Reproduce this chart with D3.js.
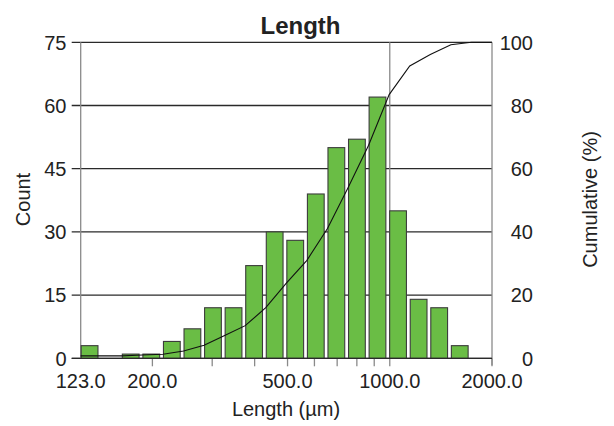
<!DOCTYPE html>
<html>
<head>
<meta charset="utf-8">
<script src="https://cdn.jsdelivr.net/npm/d3@7"></script>
<style>
  html, body { margin: 0; padding: 0; background: #fff; }
  svg { display: block; font-family: "Liberation Sans", Arial, sans-serif; }
</style>
</head>
<body>
<svg id="chart" width="614" height="426"></svg>
<script>
// ---- data ----
const binEdges = [123, 141.4, 162.56, 186.88, 214.84, 246.99, 283.94, 326.43, 375.27, 431.42,
                  495.97, 570.18, 655.49, 753.56, 866.31, 995.93, 1144.95, 1316.25, 1513.19, 1739.59, 2000];
const counts = [3, 0, 1, 1, 4, 7, 12, 12, 22, 30, 28, 39, 50, 52, 62, 35, 14, 12, 3, 0];
const xTickValues = [123, 200, 500, 1000, 2000];
const xMinorTicks = [200, 300, 400, 500, 600, 700, 800, 900, 1000, 2000];
const yTicks = [0, 15, 30, 45, 60, 75];
const y2Ticks = [0, 20, 40, 60, 80, 100];
const titleText = "Length";
const xTitle = "Length (µm)";
const yTitle = "Count";
const y2Title = "Cumulative (%)";

// ---- layout ----
const L = 80.7, R = 492, T = 42.3, B = 358.3;
const svg = d3.select("#chart");
const x = d3.scaleLog().domain([123, 2000]).range([L, R]);
const y = d3.scaleLinear().domain([0, 75]).range([B, T]);
const y2 = d3.scaleLinear().domain([0, 100]).range([B, T]);

const total = d3.sum(counts);
const cum = Array.from(d3.cumsum(counts), v => v / total * 100);

const textCol = "#222";
const gridCol = "#2a2a2a";
const axisCol = "#8a8a8a";

// horizontal gridlines (with left ticks)
svg.append("g").selectAll("line").data(yTicks).join("line")
  .attr("x1", L - 9).attr("x2", R)
  .attr("y1", d => y(d)).attr("y2", d => y(d))
  .attr("stroke", gridCol).attr("stroke-width", 1.3);

// vertical gridline at 1000
svg.append("line")
  .attr("x1", x(1000)).attr("x2", x(1000)).attr("y1", T).attr("y2", B)
  .attr("stroke", axisCol).attr("stroke-width", 1.3);

// left axis line
svg.append("line").attr("x1", L).attr("x2", L).attr("y1", T).attr("y2", B)
  .attr("stroke", axisCol).attr("stroke-width", 1.3);
// right axis line
svg.append("line").attr("x1", R).attr("x2", R).attr("y1", T).attr("y2", B + 7)
  .attr("stroke", axisCol).attr("stroke-width", 1.3);

// x minor ticks
svg.append("g").selectAll("line").data(xMinorTicks).join("line")
  .attr("x1", d => x(d)).attr("x2", d => x(d))
  .attr("y1", B).attr("y2", B + 8)
  .attr("stroke", axisCol).attr("stroke-width", 1.3);

// bars
const bins = counts.map((c, i) => ({ c, x0: binEdges[i], x1: binEdges[i + 1] }));
svg.append("g").selectAll("rect").data(bins.filter(b => b.c > 0)).join("rect")
  .attr("x", b => x(b.x0) + 0.5)
  .attr("width", b => x(b.x1) - x(b.x0) - 3.8)
  .attr("y", b => y(b.c))
  .attr("height", b => y(0) - y(b.c))
  .attr("fill", "#6abd45")
  .attr("stroke", "#3c3c3c")
  .attr("stroke-width", 1.1);

// baseline
svg.append("line").attr("x1", L - 9).attr("x2", R).attr("y1", B).attr("y2", B)
  .attr("stroke", gridCol).attr("stroke-width", 1.3);

// cumulative line
const pts = [[binEdges[0], cum[0]]].concat(cum.map((v, i) => [binEdges[i + 1], v]));
svg.append("path")
  .attr("d", d3.line().x(d => x(d[0])).y(d => y2(d[1]))(pts))
  .attr("fill", "none").attr("stroke", "#111").attr("stroke-width", 1.1);

// left tick labels
svg.append("g").selectAll("text").data(yTicks).join("text")
  .attr("x", 66.5).attr("y", d => y(d)).attr("dy", "0.36em")
  .attr("text-anchor", "end").attr("font-size", 20).attr("fill", textCol)
  .text(d => d);

// right tick labels
svg.append("g").selectAll("text").data(y2Ticks).join("text")
  .attr("x", 533).attr("y", d => y2(d)).attr("dy", "0.36em")
  .attr("text-anchor", "end").attr("font-size", 20).attr("fill", textCol)
  .text(d => d);

// bottom tick labels
svg.append("g").selectAll("text").data(xTickValues).join("text")
  .attr("x", d => x(d)).attr("y", 388)
  .attr("text-anchor", "middle").attr("font-size", 20).attr("fill", textCol)
  .text(d => d3.format(".1f")(d));

// titles
svg.append("text").attr("x", 300.5).attr("y", 34)
  .attr("text-anchor", "middle").attr("font-size", 24).attr("font-weight", "bold").attr("fill", textCol)
  .text(titleText);
svg.append("text").attr("x", 286).attr("y", 416)
  .attr("text-anchor", "middle").attr("font-size", 20).attr("fill", textCol)
  .text(xTitle);
svg.append("text").attr("transform", "translate(30,199.5) rotate(-90)")
  .attr("text-anchor", "middle").attr("font-size", 20).attr("fill", textCol)
  .text(yTitle);
svg.append("text").attr("transform", "translate(597,199.5) rotate(-90)")
  .attr("text-anchor", "middle").attr("font-size", 20).attr("fill", textCol)
  .text(y2Title);
</script>
</body>
</html>
